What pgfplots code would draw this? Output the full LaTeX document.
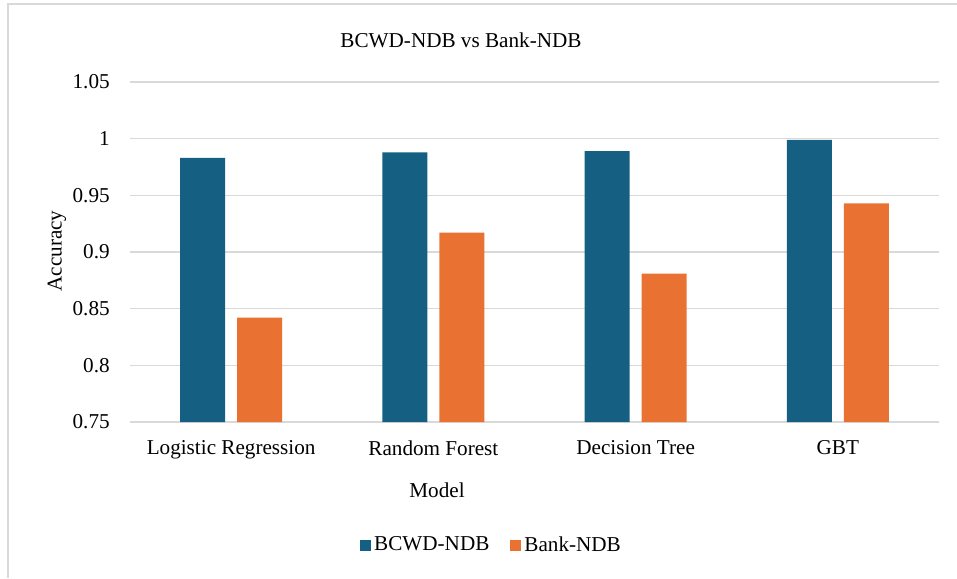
\documentclass[border=0pt]{standalone}
\usepackage{fontspec}
\setmainfont{Liberation Serif}
\usepackage{pgfplots}
\pgfplotsset{compat=1.18}
\definecolor{cblue}{HTML}{156082}
\definecolor{corange}{HTML}{E97132}
\definecolor{gridc}{HTML}{D9D9D9}
\newlength\px \setlength\px{0.6pt}
\begin{document}
\begin{tikzpicture}[x=\px,y=\px]
\useasboundingbox (0,0) rectangle (957,578);
\draw[gridc, line width=1.5\px] (8,0) -- (8,574) -- (957,574);
\node[font=\fontsize{12.7}{15}\selectfont, inner sep=0pt] at (461,538) {BCWD-NDB vs Bank-NDB};
\begin{axis}[
  at={(130\px,156\px)}, anchor=south west,
  scale only axis, width=809\px, height=340\px,
  font=\fontsize{12.7}{15}\selectfont,
  /pgf/number format/assume math mode=true,
  xmin=-0.5, xmax=3.5, ymin=0.75, ymax=1.05,
  xtick={0,1,2,3},
  xticklabels={Logistic Regression, Random Forest, Decision Tree, GBT},
  ytick={0.75,0.8,0.85,0.9,0.95,1,1.05},
  yticklabels={\textrm{0.75},\textrm{0.8},\textrm{0.85},\textrm{0.9},\textrm{0.95},\textrm{1},\textrm{1.05}},
  ymajorgrids, grid style={gridc, line width=1.5\px},
  axis line style={draw=none},
  major tick length=0pt, tick style={draw=none},
  yticklabel style={inner sep=0pt, xshift=-20\px},
  xticklabel style={inner sep=0pt, yshift=-18\px},
  xlabel={Model},
  xlabel style={at={(axis description cs:0.3795,-0.2)}, anchor=center},
  ylabel={Accuracy},
  ylabel style={at={(axis description cs:-0.0902,0.503)}, anchor=center},
  legend columns=2,
  legend style={at={(axis description cs:0.4475,-0.3618)}, anchor=center, draw=none,
    /tikz/every even column/.append style={column sep=18\px},
    nodes={inner sep=3\px}},
  legend image code/.code={\fill[#1] (0,-5.5\px) rectangle (11\px,5.5\px);},
]
\addplot[ybar, bar width=45\px, bar shift=-28.5\px, fill=cblue, draw=none]
  coordinates {(0,0.983) (1,0.988) (2,0.989) (3,0.999)};
\addlegendentry{BCWD-NDB}
\addplot[ybar, bar width=45\px, bar shift=28.5\px, fill=corange, draw=none]
  coordinates {(0,0.842) (1,0.917) (2,0.881) (3,0.943)};
\addlegendentry{Bank-NDB}
\end{axis}
\end{tikzpicture}
\end{document}
